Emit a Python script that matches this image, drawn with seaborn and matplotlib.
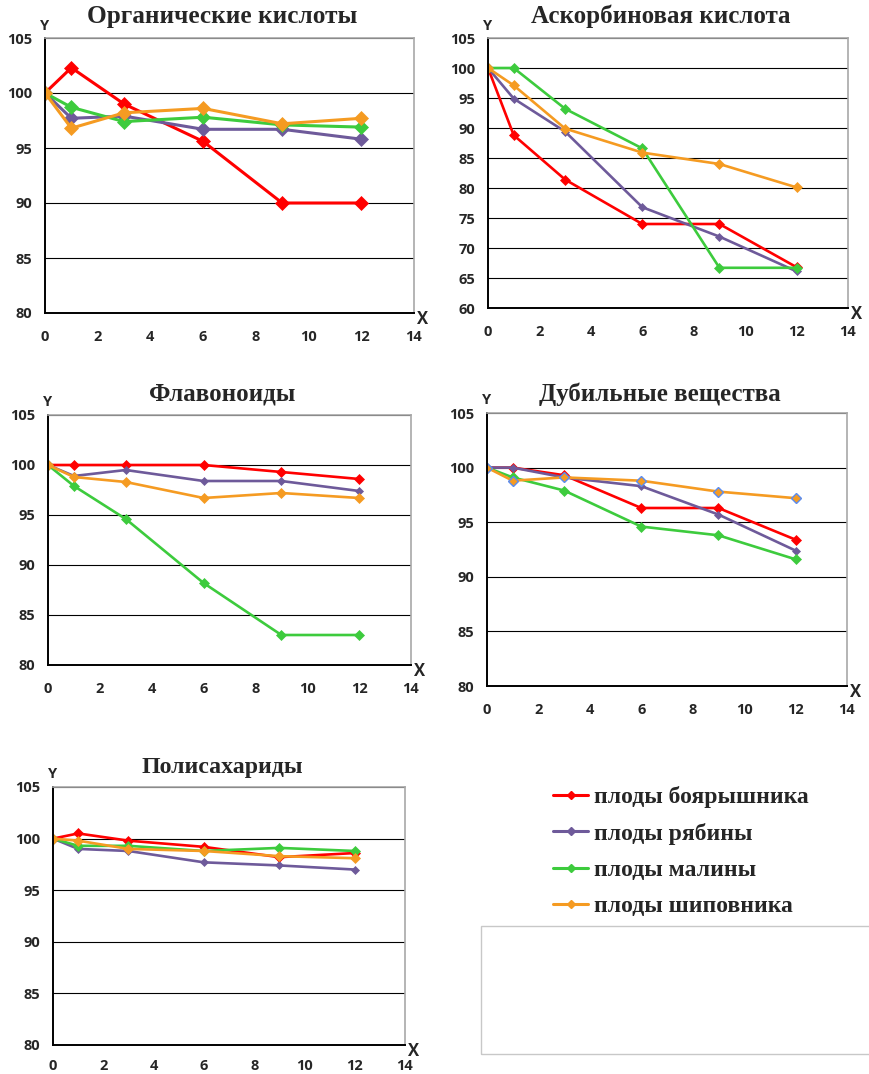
import numpy as np
import pandas as pd
import matplotlib
matplotlib.use("Agg")
import matplotlib.pyplot as plt
from matplotlib.lines import Line2D
from matplotlib.patches import Rectangle
import seaborn as sns

# ---------------- data ----------------
days = [0, 1, 3, 6, 9, 12]
series_names = ["плоды боярышника", "плоды рябины", "плоды малины", "плоды шиповника"]
colors = ["#FF0000", "#6E5A9A", "#3DCB3D", "#F59B22"]

titles = ["Органические кислоты", "Аскорбиновая кислота", "Флавоноиды",
          "Дубильные вещества", "Полисахариды"]

organic_hawthorn = [100, 102.3, 99.0, 95.6, 90.0, 90.0]
organic_rowan = [100, 97.7, 97.9, 96.7, 96.7, 95.8]
organic_raspberry = [100, 98.7, 97.4, 97.8, 97.1, 96.9]
organic_rosehip = [100, 96.8, 98.2, 98.6, 97.2, 97.7]

ascorbic_hawthorn = [100, 88.8, 81.4, 74.0, 74.0, 66.8]
ascorbic_rowan = [100, 94.9, 89.4, 76.8, 71.9, 66.1]
ascorbic_raspberry = [100, 100, 93.2, 86.6, 66.7, 66.7]
ascorbic_rosehip = [100, 97.1, 89.9, 85.9, 84.0, 80.1]

flavon_hawthorn = [100, 100, 100, 100, 99.3, 98.6]
flavon_rowan = [100, 98.9, 99.5, 98.4, 98.4, 97.4]
flavon_raspberry = [100, 97.9, 94.6, 88.2, 83.0, 83.0]
flavon_rosehip = [100, 98.8, 98.3, 96.7, 97.2, 96.7]

tannin_hawthorn = [100, 100, 99.3, 96.3, 96.3, 93.4]
tannin_rowan = [100, 100, 99.1, 98.3, 95.7, 92.4]
tannin_raspberry = [100, 99.1, 97.9, 94.6, 93.8, 91.6]
tannin_rosehip = [100, 98.8, 99.1, 98.8, 97.8, 97.2]

polysac_hawthorn = [100, 100.5, 99.8, 99.2, 98.2, 98.6]
polysac_rowan = [100, 99.0, 98.8, 97.7, 97.4, 97.0]
polysac_raspberry = [100, 99.3, 99.3, 98.8, 99.1, 98.8]
polysac_rosehip = [100, 99.8, 99.0, 98.8, 98.3, 98.1]

panels_data = [
    [organic_hawthorn, organic_rowan, organic_raspberry, organic_rosehip],
    [ascorbic_hawthorn, ascorbic_rowan, ascorbic_raspberry, ascorbic_rosehip],
    [flavon_hawthorn, flavon_rowan, flavon_raspberry, flavon_rosehip],
    [tannin_hawthorn, tannin_rowan, tannin_raspberry, tannin_rosehip],
    [polysac_hawthorn, polysac_rowan, polysac_raspberry, polysac_rosehip],
]
y_lows = [80, 60, 80, 80, 80]

# ---------------- layout ----------------
W, H = 870, 1074
sns.set_style("white")
plt.rcParams["font.family"] = ["Open Sans", "DejaVu Sans"]

fig = plt.figure(figsize=(W / 100, H / 100), dpi=100)

# (left, right, top, bottom) in pixels
boxes = [(45, 414, 38, 313), (488, 848, 38, 308), (48, 411, 415, 665),
         (487, 847, 413, 686), (53, 405, 787, 1045)]
title_off = [22, 22, 21, 19, 19]
title_size = [18.2, 18, 18, 18, 17.2]
xpad = [9, 9, 9, 9, 7]

serif = ["Liberation Serif", "DejaVu Serif"]

for i, (l, r, t, b) in enumerate(boxes):
    ax = fig.add_axes([l / W, 1 - b / H, (r - l) / W, (b - t) / H])
    lw = 2.2 if i == 0 else 1.9
    for j, (name, col) in enumerate(zip(series_names, colors)):
        df = pd.DataFrame({"x": days, "y": panels_data[i][j]})
        ms = 7.5 if i == 0 else 5.5
        if j == 1:
            ms = 7 if i == 0 else 4.5
        mec = col
        if i == 3 and j == 3:
            mec = "#5A8CF0"
        sns.lineplot(data=df, x="x", y="y", ax=ax, color=col, lw=lw,
                     marker="D", markersize=ms, markeredgecolor=mec,
                     markeredgewidth=1.0 if mec != col else 0.5, legend=False)
    lo = y_lows[i]
    ax.set_xlim(0, 14)
    ax.set_ylim(lo, 105)
    ax.set_xticks(np.arange(0, 15, 2))
    ax.set_yticks(np.arange(lo, 106, 5))
    ax.set_xlabel("")
    ax.set_ylabel("")
    ax.yaxis.grid(True, color="black", lw=0.8)
    ax.xaxis.grid(False)
    ax.set_axisbelow(True)
    for s in ["left", "bottom"]:
        ax.spines[s].set_color("black")
        ax.spines[s].set_linewidth(1.4)
    for s in ["top", "right"]:
        ax.spines[s].set_color("#A8A8A8")
        ax.spines[s].set_linewidth(1.2)
    ax.tick_params(axis="both", direction="inout", length=6, width=1, color="black",
                   labelsize=10.5)
    ax.tick_params(axis="x", pad=xpad[i])
    ax.tick_params(axis="y", pad=6)
    for lab in ax.get_xticklabels() + ax.get_yticklabels():
        lab.set_fontweight("bold")
    ax.annotate(titles[i], xy=(0.48, 1.0), xycoords="axes fraction",
                xytext=(0, title_off[i] * 0.72), textcoords="offset points",
                ha="center", va="center", fontsize=title_size[i], fontweight="bold",
                family=serif)
    ax.annotate("Y", xy=(0, 1.0), xycoords="axes fraction", xytext=(0, 9),
                textcoords="offset points", ha="center", va="center",
                fontsize=10.5, fontweight="bold")
    ax.annotate("X", xy=(1.0, 0), xycoords="axes fraction", xytext=(6, -4),
                textcoords="offset points", ha="center", va="center",
                fontsize=12, fontweight="bold")

# legend
handles = [Line2D([0], [0], color=c, lw=2.2, marker="D", markersize=4.5)
           for c in colors]
fig.legend(handles, series_names, loc="upper left",
           bbox_to_anchor=(553 / W, 1 - 786 / H), frameon=False,
           prop={"family": serif, "weight": "bold", "size": 17},
           handlelength=1.5, handletextpad=0.25, labelspacing=0.62,
           borderpad=0, borderaxespad=0)

# empty box below legend
fig.patches.append(Rectangle((481 / W, 1 - 1054 / H), (W - 481) / W + 0.01, 128 / H,
                             transform=fig.transFigure, fill=False,
                             edgecolor="#C8C8C8", lw=1.0))

fig.savefig("out.png", dpi=100)
